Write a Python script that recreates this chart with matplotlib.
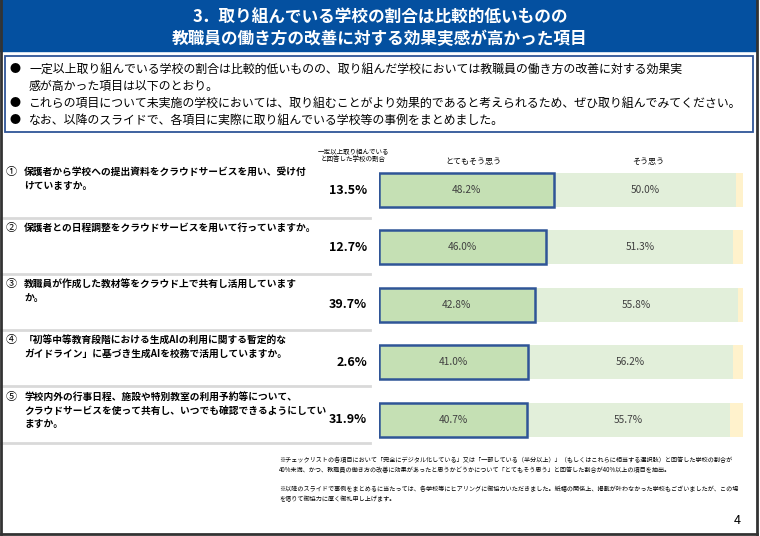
import numpy as np
import matplotlib
matplotlib.use("Agg")
import matplotlib.pyplot as plt
from matplotlib.patches import Rectangle

plt.rcParams['font.family'] = ['Noto Sans CJK JP', 'DejaVu Sans']

# data
numbers = ['①', '②', '③', '④', '⑤']
questions = [
    ['保護者から学校への提出資料をクラウドサービスを用い、受け付', 'けていますか。'],
    ['保護者との日程調整をクラウドサービスを用いて行っていますか。'],
    ['教職員が作成した教材等をクラウド上で共有し活用しています', 'か。'],
    ['「初等中等教育段階における生成AIの利用に関する暫定的な', 'ガイドライン」に基づき生成AIを校務で活用していますか。'],
    ['学校内外の行事日程、施設や特別教室の利用予約等について、',
     'クラウドサービスを使って共有し、いつでも確認できるようにしてい', 'ますか。'],
]
school_rate = [13.5, 12.7, 39.7, 2.6, 31.9]
very_much = [48.2, 46.0, 42.8, 41.0, 40.7]
somewhat = [50.0, 51.3, 55.8, 56.2, 55.7]
rest = [1.8, 2.7, 1.4, 2.8, 3.6]
series_names = ['とてもそう思う', 'そう思う']

title_lines = ['3．取り組んでいる学校の割合は比較的低いものの',
               '教職員の働き方の改善に対する効果実感が高かった項目']
bullets = [
    ['一定以上取り組んでいる学校の割合は比較的低いものの、取り組んだ学校においては教職員の働き方の改善に対する効果実',
     '感が高かった項目は以下のとおり。'],
    ['これらの項目について未実施の学校においては、取り組むことがより効果的であると考えられるため、ぜひ取り組んでみてください。'],
    ['なお、以降のスライドで、各項目に実際に取り組んでいる学校等の事例をまとめました。'],
]
notes = [
    '※チェックリストの各項目において「完全にデジタル化している」又は「一部している（半分以上）」（もしくはこれらに相当する選択肢）と回答した学校の割合が',
    '40%未満、かつ、教職員の働き方の改善に効果があったと思うかどうかについて「とてもそう思う」と回答した割合が40%以上の項目を抽出。',
    '',
    '※以降のスライドで事例をまとめるに当たっては、各学校等にヒアリングに御協力いただきました。紙幅の関係上、掲載が叶わなかった学校もございましたが、この場',
    'を借りて御協力に厚く御礼申し上げます。',
]

W, H = 760, 536
fig = plt.figure(figsize=(W / 100, H / 100), dpi=100)
bg = fig.add_axes([0, 0, 1, 1])
bg.set_xlim(0, W)
bg.set_ylim(H, 0)
bg.axis('off')

# title bar
bg.add_patch(Rectangle((0, 0), 756, 51, color='#0450A0', zorder=1))
for i, line in enumerate(title_lines):
    bg.text(380, 17 + i * 22, line, color='white', fontsize=12, fontweight='bold',
            ha='center', va='center')

# summary box
bg.add_patch(Rectangle((5, 56), 748, 76, fill=False, edgecolor='#2F5597', lw=1.3))
y = 69
for b in bullets:
    bg.text(15, y, '●', fontsize=8, ha='center', va='center')
    for line in b:
        bg.text(29, y, line, fontsize=8.6, ha='left', va='center')
        y += 17

# row separators and question texts
row_step = 57.4
for sy in [218, 274, 330, 386, 443]:
    bg.plot([0, 370], [sy, sy], color='#D9D9D9', lw=2)

q_top = [172, 228, 284, 340, 397]
for i, lines in enumerate(questions):
    bg.text(11, q_top[i], numbers[i], fontsize=8, ha='center', va='center')
    for j, line in enumerate(lines):
        bg.text(24, q_top[i] + j * 13.5, line, fontsize=7, fontweight='bold',
                ha='left', va='center')
    bg.text(367, 190 + i * row_step, f'{school_rate[i]:.1f}%', fontsize=9,
            fontweight='bold', ha='right', va='center')

# column headers
bg.text(353, 152, '一定以上取り組んでいる', fontsize=4.7, ha='center', va='center')
bg.text(353, 159, 'と回答した学校の割合', fontsize=4.7, ha='center', va='center')
bg.text(473, 161, series_names[0], fontsize=5.8, ha='center', va='center')
bg.text(648, 161, series_names[1], fontsize=5.8, ha='center', va='center')

# footnotes
for k, line in enumerate(notes):
    if line:
        bg.text(279, 460 + k * 9.8, line, fontsize=4.4, ha='left', va='center')
bg.text(737, 520, '4', fontsize=9, ha='center', va='center')

# outer border
bg.plot([1, 1], [0, 534], color='#333333', lw=2)
bg.plot([757, 757], [0, 534], color='#333333', lw=2)
bg.plot([1, 757], [534, 534], color='#333333', lw=2)

# bar chart
top = 190 - row_step / 2
bottom = 190 + 4 * row_step + row_step / 2
ax = fig.add_axes([379 / W, 1 - bottom / H, 364 / W, (bottom - top) / H])
ax.set_xlim(0, 100)
ax.set_ylim(4.5, -0.5)
ax.axis('off')
ypos = np.arange(len(very_much))
bh = 34 / row_step
ax.barh(ypos, very_much, height=bh, color='#C5E0B4', edgecolor='#2F5597', lw=1.8, zorder=3)
ax.barh(ypos, somewhat, left=very_much, height=bh, color='#E2EFDA', lw=0, zorder=2)
ax.barh(ypos, rest, left=np.array(very_much) + np.array(somewhat), height=bh,
        color='#FFF2CC', lw=0, zorder=2)
for i in ypos:
    ax.text(very_much[i] / 2, i, f'{very_much[i]:.1f}%', fontsize=7.3,
            color='#404040', ha='center', va='center', zorder=4)
    ax.text(very_much[i] + somewhat[i] / 2, i, f'{somewhat[i]:.1f}%', fontsize=7.3,
            color='#404040', ha='center', va='center', zorder=4)

fig.savefig('out.png', dpi=100)
